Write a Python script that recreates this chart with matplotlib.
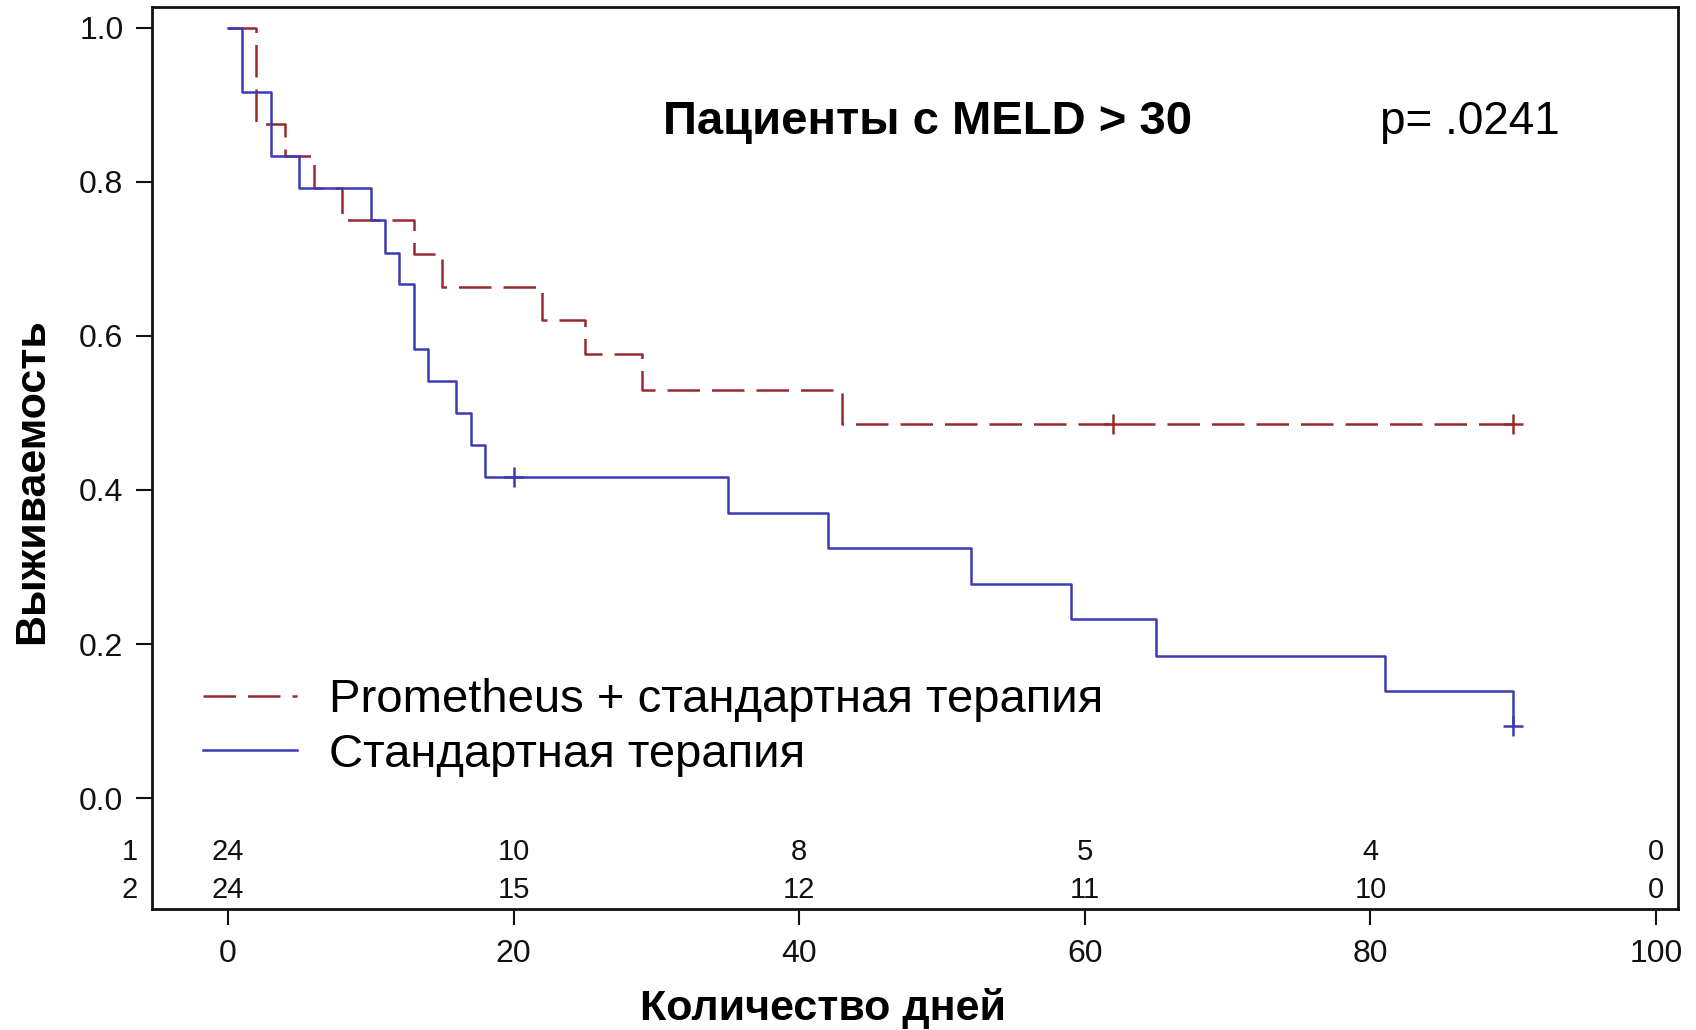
import matplotlib
matplotlib.use("Agg")
import matplotlib.pyplot as plt
import numpy as np

plt.rcParams['font.family'] = ['Liberation Sans', 'DejaVu Sans']

# Kaplan-Meier steps
prom_days = [0, 2, 4, 6, 8, 13, 15, 22, 25, 29, 43, 90]
prom_surv = [1.0, 0.875, 0.833, 0.792, 0.750, 0.706, 0.664, 0.620, 0.576, 0.530, 0.486, 0.486]
prom_cens_days = [62, 90]
prom_cens_surv = [0.486, 0.486]

std_days = [0, 1, 3, 5, 10, 11, 12, 13, 14, 16, 17, 18, 35, 42, 52, 59, 65, 81, 90]
std_surv = [1.0, 0.917, 0.833, 0.792, 0.750, 0.708, 0.667, 0.583, 0.542, 0.500,
            0.458, 0.417, 0.370, 0.324, 0.278, 0.232, 0.185, 0.139, 0.093]
std_cens_days = [20, 90]
std_cens_surv = [0.417, 0.093]

# numbers at risk
risk_days = [0, 20, 40, 60, 80, 100]
risk_row1 = [24, 10, 8, 5, 4, 0]
risk_row2 = [24, 15, 12, 11, 10, 0]
risk_labels = ["1", "2"]

labels = ["Prometheus + стандартная терапия", "Стандартная терапия"]
x_ticks = [0, 20, 40, 60, 80, 100]
y_ticks = [0.0, 0.2, 0.4, 0.6, 0.8, 1.0]

RED = "#962a2e"
BLUE = "#3b3bb3"

fig = plt.figure(figsize=(16.96, 10.30), dpi=100)
ax = fig.add_axes([0.0896, 0.1175, 0.8998, 0.8757])

red_line, = ax.plot(prom_days, prom_surv, drawstyle="steps-post", color=RED,
                    lw=1.8, dashes=(13, 4.8), label=labels[0])
blue_line, = ax.plot(std_days, std_surv, drawstyle="steps-post", color=BLUE,
                     lw=1.8, label=labels[1])
ax.plot(prom_cens_days, prom_cens_surv, ls="none", marker="+", ms=15, mew=1.8, color=RED)
ax.plot(std_cens_days, std_cens_surv, ls="none", marker="+", ms=15, mew=1.8, color=BLUE)

ax.set_xlim(-5.32, 101.54)
ax.set_ylim(-0.144, 1.027)
ax.set_xticks(x_ticks)
ax.set_xticklabels([str(v) for v in x_ticks])
ax.set_yticks(y_ticks)
ax.set_yticklabels([f"{v:.1f}" for v in y_ticks])
ax.tick_params(axis="both", direction="out", length=11.5, width=1.5,
               labelsize=23, colors="#111111")
ax.tick_params(axis="x", pad=10)
ax.tick_params(axis="y", pad=9)
for sp in ax.spines.values():
    sp.set_linewidth(2.0)
    sp.set_color("#111111")

# risk table inside the plot area
for row_y, row_vals, row_lab in zip([-0.0805, -0.130], [risk_row1, risk_row2], risk_labels):
    for d, n in zip(risk_days, row_vals):
        ax.text(d, row_y, str(n), ha="center", va="baseline", fontsize=21, color="#111111")
    ax.text(-6.3, row_y, row_lab, ha="right", va="baseline", fontsize=21,
            color="#111111", clip_on=False)

ax.text(30.46, 0.862, "Пациенты с MELD > 30", fontsize=34, fontweight="bold",
        ha="left", va="baseline")
ax.text(80.67, 0.862, "p= .0241", fontsize=33, ha="left", va="baseline")

ax.legend(handles=[red_line, blue_line], loc="upper left",
          bbox_to_anchor=(0.0334, 0.256), frameon=False, fontsize=34,
          borderpad=0, borderaxespad=0, handlelength=2.0,
          handletextpad=0.66, labelspacing=0.23)

ax.text(0.44, -0.123, "Количество дней", transform=ax.transAxes, ha="center",
        va="baseline", fontsize=31, fontweight="bold")
ax.text(-0.0786, 0.4745, "Выживаемость", transform=ax.transAxes, rotation=90,
        ha="center", va="center", fontsize=31, fontweight="bold")

fig.savefig("out.png", dpi=100)
